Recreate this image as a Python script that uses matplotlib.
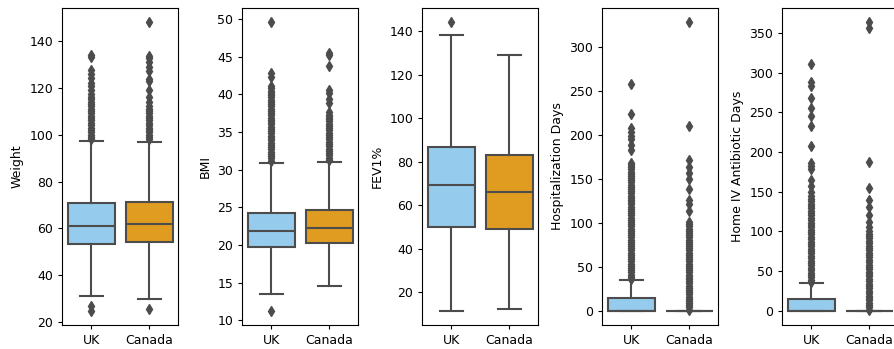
import matplotlib
matplotlib.use("Agg")
import matplotlib.pyplot as plt

plt.rcParams["font.size"] = 9
plt.rcParams["ytick.major.size"] = 3
plt.rcParams["xtick.major.size"] = 3

# 读图估计的箱线统计量: [下须, Q1, 中位数, Q3, 上须]
groups = ["UK", "Canada"]
ylabels = ["Weight", "BMI", "FEV1%", "Hospitalization Days", "Home IV Antibiotic Days"]

weight_uk = [31.1, 53.3, 61.0, 71.0, 97.1]
weight_ca = [29.9, 54.2, 61.9, 71.4, 97.0]
weight_uk_fliers = [25.0, 26.8, 98, 99, 100, 101, 102, 103, 104, 105, 106, 107, 108, 109,
                    110, 111, 112, 113, 114, 115, 116, 117.5, 119, 120.5, 122, 124, 126,
                    127.5, 133, 134]
weight_ca_fliers = [25.7, 98, 99, 100, 101, 102, 103, 104, 105, 106, 107, 108, 109, 110,
                    111, 112, 114, 116, 119, 123, 123.7, 127, 129, 131, 132.5, 133.5, 148]

bmi_uk = [13.5, 19.8, 21.8, 24.2, 30.9]
bmi_ca = [14.6, 20.2, 22.2, 24.6, 31.0]
bmi_uk_fliers = [11.3, 31.2, 31.5, 31.8, 32.1, 32.4, 32.7, 33.0, 33.3, 33.6, 33.9, 34.2,
                 34.5, 34.8, 35.1, 35.4, 35.7, 36.0, 36.3, 36.6, 36.9, 37.2, 37.5, 37.8,
                 38.1, 38.4, 38.7, 39.0, 39.3, 39.6, 39.9, 40.2, 40.5, 40.8, 41.1, 42.3,
                 42.8, 49.6]
bmi_ca_fliers = [31.3, 31.6, 31.9, 32.2, 32.5, 32.8, 33.1, 33.4, 33.7, 34.0, 34.3, 34.6,
                 34.9, 35.2, 35.5, 35.8, 36.1, 36.4, 36.7, 37.0, 37.3, 37.6, 38.9, 39.4,
                 40.2, 40.6, 43.7, 45.2, 45.5]

fev_uk = [11.5, 49.8, 69.1, 86.9, 138.3]
fev_ca = [12.3, 49.1, 66.2, 83.0, 129.2]
fev_uk_fliers = [144.2]
fev_ca_fliers = []

hosp_uk = [0, 0, 0, 14.1, 35.2]
hosp_ca = [0, 0, 0, 0, 0]
hosp_uk_fliers = [36, 38.5, 41, 43.5, 46, 48.5, 51, 53.5, 56, 58.5, 61, 63.5, 66, 68.5,
                  71, 73.5, 76, 78.5, 81, 83.5, 86, 88.5, 91, 93.5, 96, 98.5, 101, 103.5,
                  106, 108.5, 111, 113.5, 116, 118.5, 121, 123.5, 126, 128.5, 131, 133.5,
                  136, 138.5, 141, 143.5, 146, 148.5, 151, 153.5, 156, 158.5, 161, 163.5,
                  166, 168, 183, 189, 195, 199, 204, 208, 224, 258]
hosp_ca_fliers = [1, 3.5, 6, 8.5, 11, 13.5, 16, 18.5, 21, 23.5, 26, 28.5, 31, 33.5, 36,
                  38.5, 41, 43.5, 46, 48.5, 51, 53.5, 56, 58.5, 61, 63.5, 66, 68.5, 71,
                  73.5, 76, 78.5, 81, 83.5, 86, 88.5, 91, 93.5, 96, 98.5, 101, 113, 122,
                  126, 139, 150, 157, 164, 172, 210, 329]

iv_uk = [0, 0, 0, 14.4, 34.7]
iv_ca = [0, 0, 0, 0, 0]
iv_uk_fliers = [36, 39, 42, 45, 48, 51, 54, 57, 60, 63, 66, 69, 72, 75, 78, 81, 84, 87,
                90, 93, 96, 99, 102, 105, 108, 111, 114, 117, 120, 123, 126, 129, 132,
                135, 138, 141, 144, 150, 157, 165, 178, 182, 186, 207, 233, 245, 256,
                268, 283, 288, 311]
iv_ca_fliers = [1, 4, 7, 10, 13, 16, 19, 22, 25, 28, 31, 34, 37, 40, 43, 46, 49, 52, 55,
                58, 61, 64, 67, 70, 73, 76, 79, 82, 85, 88, 91, 94, 97, 100, 106, 112,
                121, 131, 140, 155, 187, 356, 364]

panels = [
    (weight_uk, weight_uk_fliers, weight_ca, weight_ca_fliers),
    (bmi_uk, bmi_uk_fliers, bmi_ca, bmi_ca_fliers),
    (fev_uk, fev_uk_fliers, fev_ca, fev_ca_fliers),
    (hosp_uk, hosp_uk_fliers, hosp_ca, hosp_ca_fliers),
    (iv_uk, iv_uk_fliers, iv_ca, iv_ca_fliers),
]

box_colors = ["#95cbec", "#df9c20"]
gray = "#4c4c4c"


def make_stats(vals, fliers, label):
    return dict(whislo=vals[0], q1=vals[1], med=vals[2], q3=vals[3], whishi=vals[4],
                fliers=fliers, label=label)


fig = plt.figure(figsize=(8.94, 3.49), dpi=100)

for i, (uk, uk_f, ca, ca_f) in enumerate(panels):
    ax = fig.add_axes([(62.3 + 180 * i) / 894, 1 - 325 / 349, 116 / 894, 317.5 / 349])
    stats = [make_stats(uk, uk_f, groups[0]), make_stats(ca, ca_f, groups[1])]
    bp = ax.bxp(stats, positions=[0, 1], widths=0.8, patch_artist=True,
                boxprops=dict(edgecolor=gray, linewidth=1.5),
                whiskerprops=dict(color=gray, linewidth=1.5),
                capprops=dict(color=gray, linewidth=1.5),
                medianprops=dict(color=gray, linewidth=1.5),
                flierprops=dict(marker="d", markerfacecolor=gray, markeredgecolor=gray,
                                markersize=5, linestyle="none"),
                capwidths=0.4)
    for patch, c in zip(bp["boxes"], box_colors):
        patch.set_facecolor(c)
    ax.set_xlim(-0.5, 1.5)
    ax.set_xticks([0, 1])
    ax.set_xticklabels(groups)
    ax.set_ylabel(ylabels[i])

fig.savefig("out.png", dpi=100)
